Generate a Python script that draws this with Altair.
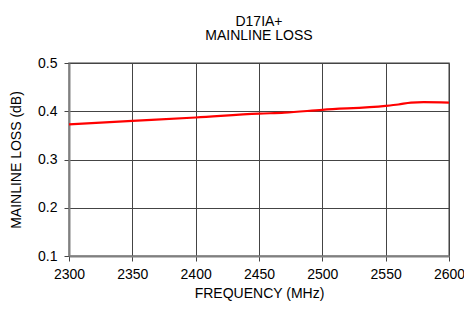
import altair as alt
import pandas as pd

freq = [2300, 2350, 2400, 2450, 2470, 2500, 2550, 2560, 2570, 2580, 2600]
loss = [0.373, 0.380, 0.387, 0.395, 0.397, 0.403, 0.411, 0.414, 0.418, 0.419, 0.418]
x_ticks = [2300, 2350, 2400, 2450, 2500, 2550, 2600]
y_ticks = [0.1, 0.2, 0.3, 0.4, 0.5]

df = pd.DataFrame({"freq": freq, "loss": loss})

FONT = "Liberation Sans"

chart = alt.Chart(df).mark_line(color="#ff0000", strokeWidth=2.2, interpolate="monotone").encode(
    x=alt.X("freq:Q", scale=alt.Scale(domain=[2300, 2600], nice=False, zero=False),
            axis=alt.Axis(title="FREQUENCY (MHz)", values=x_ticks,
                          format="d", labelFlush=False, labelPadding=6, titlePadding=5)),
    y=alt.Y("loss:Q", scale=alt.Scale(domain=[0.1, 0.5], nice=False, zero=False),
            axis=alt.Axis(title="MAINLINE LOSS (dB)", values=y_ticks,
                          format=".1f", labelPadding=7, titlePadding=14, labelFlush=False)),
).properties(
    width=380, height=193,
    title=alt.TitleParams(["D17IA+", "MAINLINE LOSS"], fontSize=14, font=FONT, fontWeight="normal",
                          color="#000", lineHeight=14.5, offset=13, anchor="middle"),
    autosize=alt.AutoSizeParams(type="none"),
    padding={"left": 61, "top": 55, "right": 15, "bottom": 46},
).configure_axis(
    labelFont=FONT, titleFont=FONT, labelFontSize=14, titleFontSize=14,
    labelColor="#000", titleColor="#000", titleFontWeight="normal",
    gridColor="#444", gridWidth=1, gridOpacity=1,
    domainColor="#808080", domainWidth=2,
    tickColor="#444", tickSize=5,
).configure_view(stroke="#808080", strokeWidth=1.5)

chart.save("out.html", embed_options={"renderer": "svg", "actions": False})
